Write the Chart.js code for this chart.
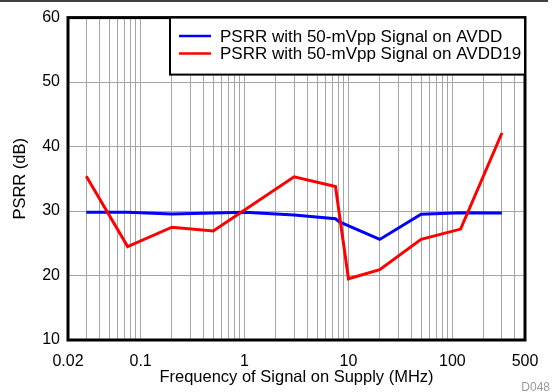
<!DOCTYPE html>
<html>
<head>
<meta charset="utf-8">
<script src="https://cdn.jsdelivr.net/npm/chart.js@4/dist/chart.umd.min.js"></script>
<style>
html,body{margin:0;padding:0;background:#fff;}
#wrap{width:558px;height:392px;position:relative;}
</style>
</head>
<body>
<div id="wrap"><canvas id="c" width="558" height="392"></canvas></div>
<script>
// ---- data ----
const seriesLabels = ['PSRR with 50-mVpp Signal on AVDD', 'PSRR with 50-mVpp Signal on AVDD19'];
const seriesColors = ['#0000ff', '#ff0000'];
const avddFreq  = [0.03, 0.075, 0.2, 0.5, 1, 3, 7.5, 8.2, 20, 50, 120, 300];
const avddPsrr  = [29.8, 29.8, 29.55, 29.7, 29.8, 29.4, 28.8, 28.3, 25.6, 29.5, 29.75, 29.7];
const avdd19Freq = [0.03, 0.075, 0.2, 0.5, 3, 7.5, 10, 20, 50, 120, 300];
const avdd19Psrr = [35.4, 24.5, 27.5, 26.9, 35.3, 33.8, 19.5, 20.9, 25.6, 27.2, 42.1];
const xTickLabels = [0.02, 0.1, 1, 10, 100, 500];
const yTickLabels = [10, 20, 30, 40, 50, 60];
const xMin = 0.02, xMax = 500, yMin = 10, yMax = 60;
const xTitle = 'Frequency of Signal on Supply (MHz)';
const yTitle = 'PSRR (dB)';
const figId = 'D048';

// grid values: 1..9 per decade, within range
const gridVals = [];
[0.01, 0.1, 1, 10, 100].forEach(d => {
  for (let m = 1; m <= 9; m++) {
    const v = +(m * d).toPrecision(3);
    if (v >= xMin - 1e-9 && v <= xMax + 1e-9) gridVals.push(v);
  }
});

const FONT = "'Liberation Sans', Arial, sans-serif";

const deco = {
  id: 'deco',
  afterDatasetsDraw(chart) {
    const {ctx, chartArea: a} = chart;
    ctx.save();
    ctx.strokeStyle = '#000';
    ctx.lineWidth = 3;
    ctx.strokeRect(a.left, a.top, a.right - a.left, a.bottom - a.top);
    ctx.restore();
  },
  afterDraw(chart) {
    const {ctx, chartArea: a} = chart;
    ctx.save();
    // top rule
    ctx.strokeStyle = '#000';
    ctx.lineWidth = 1.5;
    ctx.beginPath(); ctx.moveTo(0, 1); ctx.lineTo(548, 1); ctx.stroke();
    // legend box
    const bx = 170, by = a.top, bw = a.right - 170, bh = 57;
    ctx.fillStyle = '#fff';
    ctx.fillRect(bx, by, bw, bh);
    ctx.lineWidth = 2;
    ctx.strokeStyle = '#000';
    ctx.strokeRect(bx, by, bw, bh);
    ctx.font = '17px ' + FONT;
    ctx.textBaseline = 'middle';
    ctx.textAlign = 'left';
    const rows = [36, 53.5];
    seriesLabels.forEach((lab, i) => {
      ctx.strokeStyle = seriesColors[i];
      ctx.lineWidth = 2.5;
      ctx.beginPath(); ctx.moveTo(179, rows[i]); ctx.lineTo(211, rows[i]); ctx.stroke();
      ctx.fillStyle = '#000';
      ctx.fillText(lab, 220, rows[i] + 1);
    });
    // figure id
    ctx.font = '12px ' + FONT;
    ctx.fillStyle = '#999';
    ctx.textAlign = 'right';
    ctx.textBaseline = 'alphabetic';
    ctx.fillText(figId, 550, 391);
    ctx.restore();
  }
};

new Chart(document.getElementById('c'), {
  type: 'line',
  data: {
    datasets: [
      {
        label: seriesLabels[0],
        data: avddFreq.map((f, i) => ({x: f, y: avddPsrr[i]})),
        borderColor: seriesColors[0], borderWidth: 3, pointRadius: 0,
        fill: false, tension: 0, order: 1
      },
      {
        label: seriesLabels[1],
        data: avdd19Freq.map((f, i) => ({x: f, y: avdd19Psrr[i]})),
        borderColor: seriesColors[1], borderWidth: 3, pointRadius: 0,
        fill: false, tension: 0, order: 0
      }
    ]
  },
  options: {
    responsive: false,
    animation: false,
    devicePixelRatio: 1,
    layout: { padding: { left: 0, top: 16, right: 33, bottom: 0 } },
    plugins: { legend: { display: false }, tooltip: { enabled: false } },
    scales: {
      x: {
        type: 'logarithmic',
        min: xMin, max: xMax,
        afterBuildTicks(scale) { scale.ticks = gridVals.map(v => ({value: v})); },
        afterFit(scale) { scale.height = 52; },
        grid: { color: '#a6a6a6', lineWidth: 1, drawTicks: false },
        border: { display: false },
        ticks: {
          autoSkip: false, maxRotation: 0, minRotation: 0, padding: 12,
          color: '#000', font: { family: FONT, size: 16 },
          callback(v) {
            const t = xTickLabels.find(t => Math.abs(t - v) / t < 1e-6);
            return t === undefined ? '' : String(t);
          }
        },
        title: { display: true, text: xTitle, color: '#000', font: { family: FONT, size: 16.5 },
                 padding: { top: 0, bottom: 5 } }
      },
      y: {
        type: 'linear',
        min: yMin, max: yMax,
        afterBuildTicks(scale) { scale.ticks = yTickLabels.map(v => ({value: v})); },
        afterFit(scale) { scale.width = 68; },
        grid: { color: '#a6a6a6', lineWidth: 1, drawTicks: false },
        border: { display: false },
        ticks: { padding: 8, color: '#000', font: { family: FONT, size: 16 } },
        title: { display: true, text: yTitle, color: '#000', font: { family: FONT, size: 16.5 },
                 padding: { top: 11, bottom: 0 } }
      }
    }
  },
  plugins: [deco]
});
</script>
</body>
</html>
